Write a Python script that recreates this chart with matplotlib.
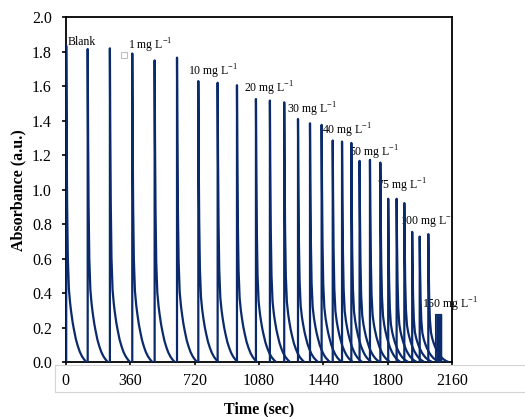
import numpy as np
import matplotlib
matplotlib.use("Agg")
import matplotlib.pyplot as plt
from matplotlib.lines import Line2D

plt.rcParams['font.family'] = ['Liberation Serif', 'DejaVu Serif']
plt.rcParams['mathtext.fontset'] = 'custom'
plt.rcParams['mathtext.rm'] = 'Liberation Serif'

# peak start times (sec) and peak heights (a.u.), three injections per standard
peak_times = [3, 123, 247, 372, 497, 622, 741, 849, 957, 1063, 1141, 1221,
              1298, 1365, 1430, 1492, 1544, 1596, 1642, 1700, 1758,
              1802, 1849, 1892, 1936, 1978, 2026]
peak_heights = [1.835, 1.816, 1.82, 1.79, 1.75, 1.766, 1.63, 1.62, 1.606,
                1.526, 1.517, 1.507, 1.41, 1.385, 1.376, 1.285, 1.279, 1.271,
                1.167, 1.173, 1.157, 0.947, 0.947, 0.922, 0.755, 0.728, 0.742]

# decay shape after each peak (seconds after peak, fraction of peak height)
decay_dt = [0, 2, 5, 9, 15, 22, 28, 36, 43, 54, 65, 76, 88, 100, 112]
decay_frac = [1, 0.75, 0.5, 0.33, 0.23, 0.185, 0.157, 0.125, 0.103, 0.072,
              0.05, 0.032, 0.018, 0.008, 0]

# 150 mg/L section (merged narrow peaks)
t150 = [2067, 2067, 2075, 2082, 2084, 2086, 2093, 2100, 2100]
a150 = [0, 0.275, 0.275, 0.275, 0.266, 0.275, 0.275, 0.275, 0]

labels = ['Blank', '1 mg L$^{-1}$', '10 mg L$^{-1}$', '20 mg L$^{-1}$',
          '30 mg L$^{-1}$', '40 mg L$^{-1}$', '50 mg L$^{-1}$',
          '75 mg L$^{-1}$', '100 mg L$^{-1}$', '150 mg L$^{-1}$']
label_x = [11, 350, 681, 998, 1235, 1434, 1585, 1737, 1868, 1992]
label_y = [1.84, 1.815, 1.66, 1.563, 1.443, 1.318, 1.192, 1.003, 0.792, 0.309]

color = '#0b2a6b'

fig = plt.figure(figsize=(5.25, 4.17), dpi=100)
ax = fig.add_axes([0.1251, 0.1319, 0.7364, 0.8266])

dt = np.array(decay_dt)
fr = np.array(decay_frac)
for t0, h in zip(peak_times, peak_heights):
    xs = np.concatenate([[t0], t0 + dt])
    ys = np.concatenate([[0], h * fr])
    ax.plot(xs, ys, color=color, lw=1.6, zorder=3)

ax.fill_between(t150, a150, color=color, lw=0, zorder=3)
ax.plot(t150, a150, color=color, lw=1.0, zorder=3)

for lab, x, y in zip(labels, label_x, label_y):
    ax.text(x, y, lab, fontsize=8.5, ha='left', va='baseline', zorder=2,
            clip_on=(lab.startswith('100')))

# small stray marker near the 1 mg label
ax.plot([328], [1.78], marker='s', ms=5, mfc='white', mec='#c0c0c0', mew=0.8,
        zorder=2)

ax.set_xlim(0, 2160)
ax.set_ylim(0, 2.0)
ax.set_xticks(np.arange(0, 2161, 360))
ax.set_yticks(np.arange(0, 2.01, 0.2))
ax.set_yticklabels([f'{v:.1f}' for v in np.arange(0, 2.01, 0.2)])
ax.tick_params(axis='x', direction='out', length=3, width=1.2, labelsize=11.5, pad=5)
ax.tick_params(axis='y', direction='out', length=3, width=1.2, labelsize=11.5, pad=7)
for s in ax.spines.values():
    s.set_linewidth(1.3)
    s.set_color('black')

ax.set_xlabel('Time (sec)', fontsize=11.5, fontweight='bold', labelpad=9)
ax.set_ylabel('Absorbance (a.u.)', fontsize=11.5, fontweight='bold', labelpad=4)

# light grey frame around the x tick labels
W, H = 525.0, 417.0
gc = '#d4d4d4'
fig.add_artist(Line2D([55 / W, 1], [1 - 365 / H] * 2, color=gc, lw=0.8))
fig.add_artist(Line2D([55 / W, 1], [1 - 391.5 / H] * 2, color=gc, lw=0.8))
fig.add_artist(Line2D([55 / W] * 2, [1 - 365 / H, 1 - 391.5 / H], color=gc, lw=0.8))

fig.savefig('out.png', dpi=100)
